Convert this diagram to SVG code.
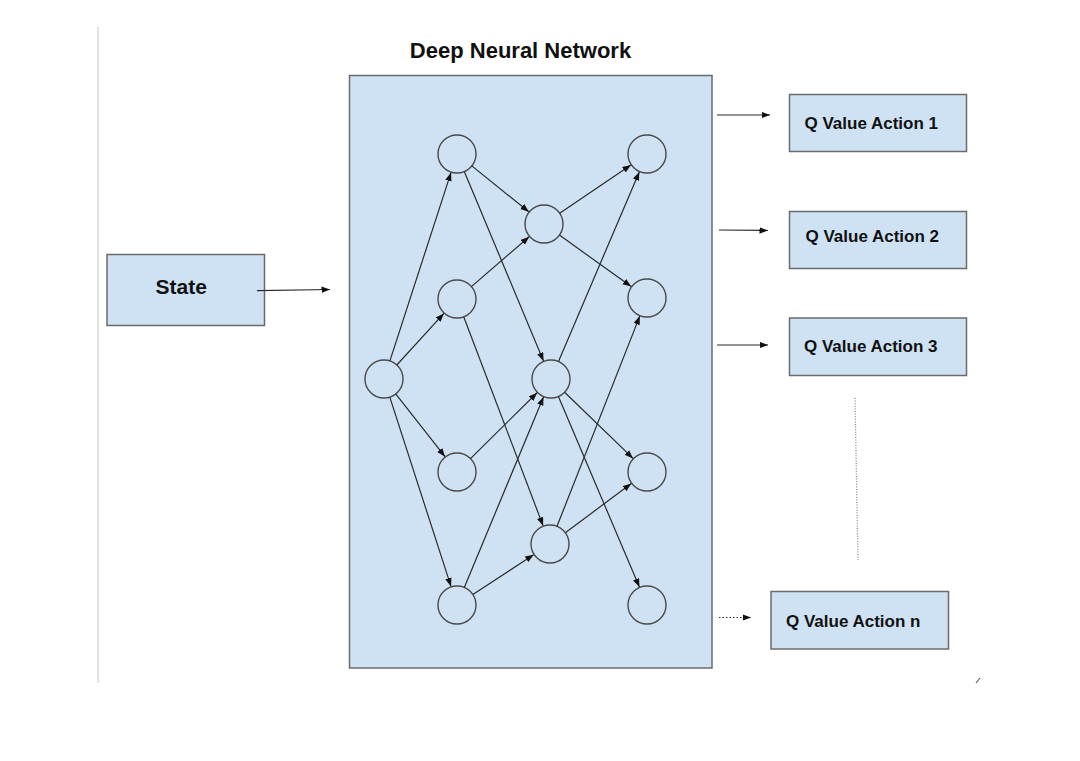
<svg xmlns="http://www.w3.org/2000/svg" width="1080" height="761" viewBox="0 0 1080 761">
<style>
  .box { fill: #cfe2f3; stroke: #6b6b6b; stroke-width: 1.5; }
  .neuron { fill: #cfe2f3; stroke: #4a4a4a; stroke-width: 1.4; }
  .edge { stroke: #2a2a2a; stroke-width: 1.2; fill: none; marker-end: url(#arr); }
  .lbl { font-family: "Liberation Sans", Arial, sans-serif; font-weight: bold; fill: #111; }
</style>
<defs>
  <marker id="arr" markerUnits="userSpaceOnUse" markerWidth="10" markerHeight="8" refX="8.5" refY="3.25" orient="auto">
    <path d="M0,0 L8.5,3.25 L0,6.5 z" fill="#111"/>
  </marker>
</defs>
<rect width="1080" height="761" fill="#fff"/>
<line x1="98" y1="27" x2="98" y2="683" stroke="#cfcfcf" stroke-width="1.2"/>

<text class="lbl" x="520.5" y="57.5" font-size="22" text-anchor="middle">Deep Neural Network</text>

<g id="network">
  <rect class="box" x="349.5" y="75.5" width="362.5" height="592.5"/>
</g>

<g id="state">
  <rect class="box" x="107" y="254.5" width="157.5" height="71"/>
  <text class="lbl" x="155.5" y="294" font-size="21">State</text>
</g>

<g id="q1">
  <rect class="box" x="789.5" y="94.5" width="177" height="57"/>
  <text class="lbl" x="804.5" y="129.3" font-size="17">Q Value Action 1</text>
</g>
<g id="q2">
  <rect class="box" x="789.5" y="211.5" width="177" height="57"/>
  <text class="lbl" x="805.5" y="242.3" font-size="17">Q Value Action 2</text>
</g>
<g id="q3">
  <rect class="box" x="789.5" y="318" width="177" height="57.5"/>
  <text class="lbl" x="804" y="352.3" font-size="17">Q Value Action 3</text>
</g>
<g id="qn">
  <rect class="box" x="771" y="591.5" width="177.5" height="57.5"/>
  <text class="lbl" x="786" y="627.3" font-size="17">Q Value Action n</text>
</g>

<g id="neurons">
  <circle id="i1" class="neuron" cx="384" cy="379" r="19"/>
  <circle id="h1" class="neuron" cx="457" cy="154" r="19"/>
  <circle id="h2" class="neuron" cx="457" cy="299" r="19"/>
  <circle id="h3" class="neuron" cx="457" cy="472" r="19"/>
  <circle id="h4" class="neuron" cx="457" cy="605" r="19"/>
  <circle id="m1" class="neuron" cx="544" cy="224" r="19"/>
  <circle id="m2" class="neuron" cx="551" cy="379" r="19"/>
  <circle id="m3" class="neuron" cx="550" cy="544" r="19"/>
  <circle id="o1" class="neuron" cx="647" cy="154" r="19"/>
  <circle id="o2" class="neuron" cx="647" cy="298" r="19"/>
  <circle id="o3" class="neuron" cx="647" cy="472" r="19"/>
  <circle id="o4" class="neuron" cx="647" cy="605" r="19"/>
</g>

<g id="connectors">
  <line class="edge" x1="389.9" y1="360.9" x2="451.0" y2="172.6"/>
  <line class="edge" x1="396.8" y1="365.0" x2="443.9" y2="313.4"/>
  <line class="edge" x1="395.7" y1="393.9" x2="445.0" y2="456.7"/>
  <line class="edge" x1="389.8" y1="397.1" x2="451.0" y2="586.4"/>
  <line class="edge" x1="471.8" y1="165.9" x2="528.8" y2="211.8"/>
  <line class="edge" x1="464.3" y1="171.5" x2="543.5" y2="361.0"/>
  <line class="edge" x1="471.4" y1="286.6" x2="529.2" y2="236.7"/>
  <line class="edge" x1="463.7" y1="316.8" x2="543.1" y2="525.8"/>
  <line class="edge" x1="470.5" y1="458.6" x2="537.1" y2="392.7"/>
  <line class="edge" x1="464.3" y1="587.5" x2="543.5" y2="397.0"/>
  <line class="edge" x1="472.9" y1="594.6" x2="533.7" y2="554.7"/>
  <line class="edge" x1="559.7" y1="213.3" x2="630.9" y2="165.0"/>
  <line class="edge" x1="559.4" y1="235.1" x2="631.2" y2="286.6"/>
  <line class="edge" x1="558.5" y1="361.5" x2="639.3" y2="171.9"/>
  <line class="edge" x1="564.6" y1="392.2" x2="633.0" y2="458.4"/>
  <line class="edge" x1="558.4" y1="396.5" x2="639.4" y2="587.0"/>
  <line class="edge" x1="557.0" y1="526.3" x2="639.8" y2="316.1"/>
  <line class="edge" x1="565.3" y1="532.7" x2="631.3" y2="483.6"/>

  <line class="edge" x1="257" y1="290.7" x2="330" y2="289.5"/>
  <line class="edge" x1="717" y1="115" x2="770" y2="115"/>
  <line class="edge" x1="719" y1="230" x2="768" y2="230.5"/>
  <line class="edge" x1="717" y1="345" x2="768" y2="345"/>
  <line class="edge" x1="719" y1="617.5" x2="751" y2="617.5" stroke-dasharray="1.5 2"/>
  <line x1="855" y1="398" x2="858" y2="560" stroke="#888" stroke-width="1.3" stroke-dasharray="1 1.6"/>
</g>

<path d="M976,683 L980,678" stroke="#555" stroke-width="1.1" fill="none"/>
</svg>
